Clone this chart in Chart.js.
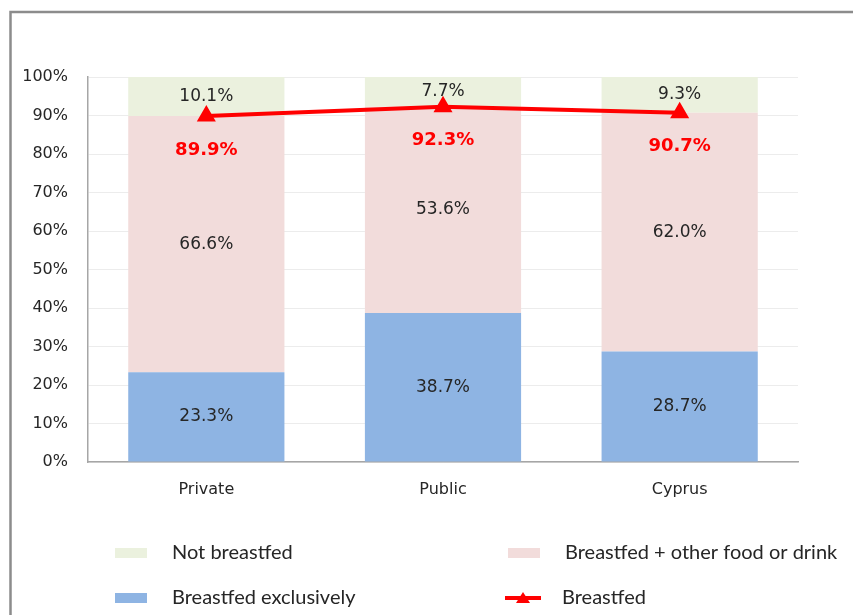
<!DOCTYPE html>
<html>
<head>
<meta charset="utf-8">
<script src="https://cdn.jsdelivr.net/npm/chart.js@4"></script>
<style>
	body { margin: 0; background: #fff; }
	#wrap { width: 853px; height: 615px; position: relative; }
</style>
</head>
<body>
<div id="wrap"><canvas id="myChart" width="853" height="615"></canvas></div>
<script>
const categories = ['Private', 'Public', 'Cyprus'];
const exclusively = [23.3, 38.7, 28.7];
const otherFood = [66.6, 53.6, 62.0];
const notBreastfed = [10.1, 7.7, 9.3];
const breastfed = [89.9, 92.3, 90.7];

const font = 'DejaVu Sans';

// draws the frame, the value labels and the 2x2 legend
const extras = {
	id: 'extras',
	afterDraw(chart) {
		const ctx = chart.ctx;
		ctx.save();

		// outer frame
		ctx.strokeStyle = '#8c8c8c';
		ctx.lineWidth = 2.5;
		ctx.strokeRect(10.5, 12, 900, 700);

		// bar labels
		ctx.textAlign = 'center';
		ctx.textBaseline = 'middle';
		ctx.font = `17px "${font}"`;
		ctx.fillStyle = '#262626';
		for (let d = 0; d < 3; d++) {
			chart.getDatasetMeta(d).data.forEach((bar, i) => {
				let mid = (bar.y + bar.base) / 2;
				ctx.fillText(chart.data.datasets[d].data[i].toFixed(1) + '%', bar.x, mid);
			});
		}

		// red line labels
		ctx.font = `bold 18px "${font}"`;
		ctx.fillStyle = '#ff0000';
		chart.getDatasetMeta(3).data.forEach((pt, i) => {
			ctx.fillText(breastfed[i].toFixed(1) + '%', pt.x, pt.y + 34);
		});

		// legend
		let items = [
			{ ds: 2, x: 115, y: 553 },
			{ ds: 1, x: 508, y: 553 },
			{ ds: 0, x: 115, y: 598 },
			{ ds: 3, x: 505, y: 598 },
		];
		ctx.font = '20px Lato';
		ctx.textAlign = 'left';
		items.forEach((it) => {
			let ds = chart.data.datasets[it.ds];
			if (ds.type == 'line') {
				ctx.strokeStyle = ds.borderColor;
				ctx.lineWidth = 4;
				ctx.beginPath();
				ctx.moveTo(it.x, it.y);
				ctx.lineTo(it.x + 36, it.y);
				ctx.stroke();
				ctx.fillStyle = ds.borderColor;
				ctx.beginPath();
				ctx.moveTo(it.x + 18, it.y - 6);
				ctx.lineTo(it.x + 25, it.y + 5);
				ctx.lineTo(it.x + 11, it.y + 5);
				ctx.closePath();
				ctx.fill();
			} else {
				ctx.fillStyle = ds.backgroundColor;
				ctx.fillRect(it.x, it.y - 5, 32, 10);
			}
			ctx.fillStyle = '#262626';
			ctx.fillText(ds.label, it.x + 57, it.y);
		});

		ctx.restore();
	},
};

new Chart(document.getElementById('myChart'), {
	data: {
		labels: categories,
		datasets: [
			{
				type: 'bar',
				label: 'Breastfed exclusively',
				data: exclusively,
				backgroundColor: '#8eb4e3',
				stack: 'bars',
				order: 2,
			},
			{
				type: 'bar',
				label: 'Breastfed + other food or drink',
				data: otherFood,
				backgroundColor: '#f2dcdb',
				stack: 'bars',
				order: 2,
			},
			{
				type: 'bar',
				label: 'Not breastfed',
				data: notBreastfed,
				backgroundColor: '#ebf1de',
				stack: 'bars',
				order: 2,
			},
			{
				type: 'line',
				label: 'Breastfed',
				data: breastfed,
				borderColor: '#ff0000',
				backgroundColor: '#ff0000',
				borderWidth: 4,
				pointStyle: 'triangle',
				pointRadius: 7,
				stack: 'line',
				order: 0,
			},
		],
	},
	options: {
		responsive: false,
		animation: false,
		layout: {
			padding: { left: 0, top: 77, right: 55, bottom: 113 },
		},
		datasets: {
			bar: { barPercentage: 0.66, categoryPercentage: 1 },
		},
		scales: {
			x: {
				stacked: true,
				grid: { display: false },
				border: { color: '#a6a6a6', width: 1.5 },
				ticks: { color: '#262626', font: { family: font, size: 16 }, padding: 10 },
				afterFit: (s) => { s.height = 40; },
			},
			y: {
				stacked: true,
				min: 0,
				max: 100,
				border: { color: '#a6a6a6', width: 1.5 },
				grid: { color: '#ececec', drawTicks: false },
				ticks: {
					stepSize: 10,
					color: '#262626',
					padding: 20,
					font: { family: font, size: 16 },
					callback: (v) => v + '%',
				},
				afterFit: (s) => { s.width = 88; },
			},
		},
		plugins: {
			legend: { display: false },
			tooltip: { enabled: false },
		},
	},
	plugins: [extras],
});
</script>
</body>
</html>
